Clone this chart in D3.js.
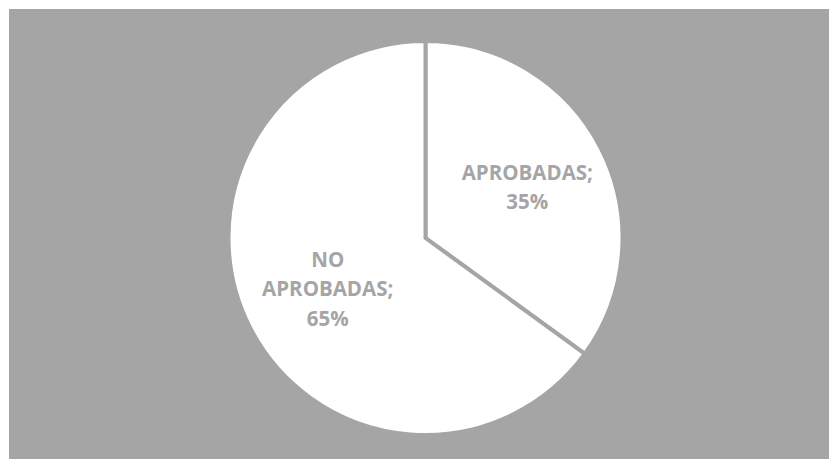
<!DOCTYPE html>
<html>
<head>
<meta charset="utf-8">
<script src="https://cdn.jsdelivr.net/npm/d3@7"></script>
<style>
  body { margin: 0; background: #ffffff; }
  svg { display: block; }
</style>
</head>
<body>
<svg id="canvas" width="829" height="459"></svg>
<script>
// chart data
let categories = ['APROBADAS', 'NO APROBADAS']
let labelLines = [['APROBADAS;', '35%'], ['NO', 'APROBADAS;', '65%']]
let values = [35, 65]

let svg = d3.select('#canvas')

let bgColor = '#a5a5a5'
let cx = 425.5
let cy = 238
let radius = 197

// gray chart area
svg.append('rect')
    .attr('x', 9)
    .attr('y', 9)
    .attr('width', 820)
    .attr('height', 450)
    .attr('fill', bgColor)

let pieData = d3.pie()
    .sort(null)
    .value((d) => d)(values)

let arc = d3.arc()
    .innerRadius(0)
    .outerRadius(radius)

let labelArc = d3.arc()
    .innerRadius(112)
    .outerRadius(112)

let g = svg.append('g')
    .attr('transform', 'translate(' + cx + ',' + cy + ')')

g.selectAll('path')
    .data(pieData)
    .enter()
    .append('path')
    .attr('d', arc)
    .attr('fill', '#ffffff')
    .attr('stroke', bgColor)
    .attr('stroke-width', 4)
    .attr('stroke-linejoin', 'round')

let lineHeight = 29.5

let labels = g.selectAll('text')
    .data(pieData)
    .enter()
    .append('text')
    .attr('text-anchor', 'middle')
    .attr('font-family', '"Open Sans", sans-serif')
    .attr('font-weight', 'bold')
    .attr('font-size', '20.5px')
    .attr('fill', '#a5a5a5')
    .attr('transform', (d) => {
        let c = labelArc.centroid(d)
        return 'translate(' + (c[0] + 2) + ',' + c[1] + ')'
    })

labels.each(function (d, i) {
    let lines = labelLines[i]
    let offset = -(lines.length - 1) / 2 * lineHeight
    lines.forEach((line, j) => {
        d3.select(this).append('tspan')
            .attr('x', 0)
            .attr('y', offset + j * lineHeight)
            .attr('dy', '0.35em')
            .text(line)
    })
})
</script>
</body>
</html>
